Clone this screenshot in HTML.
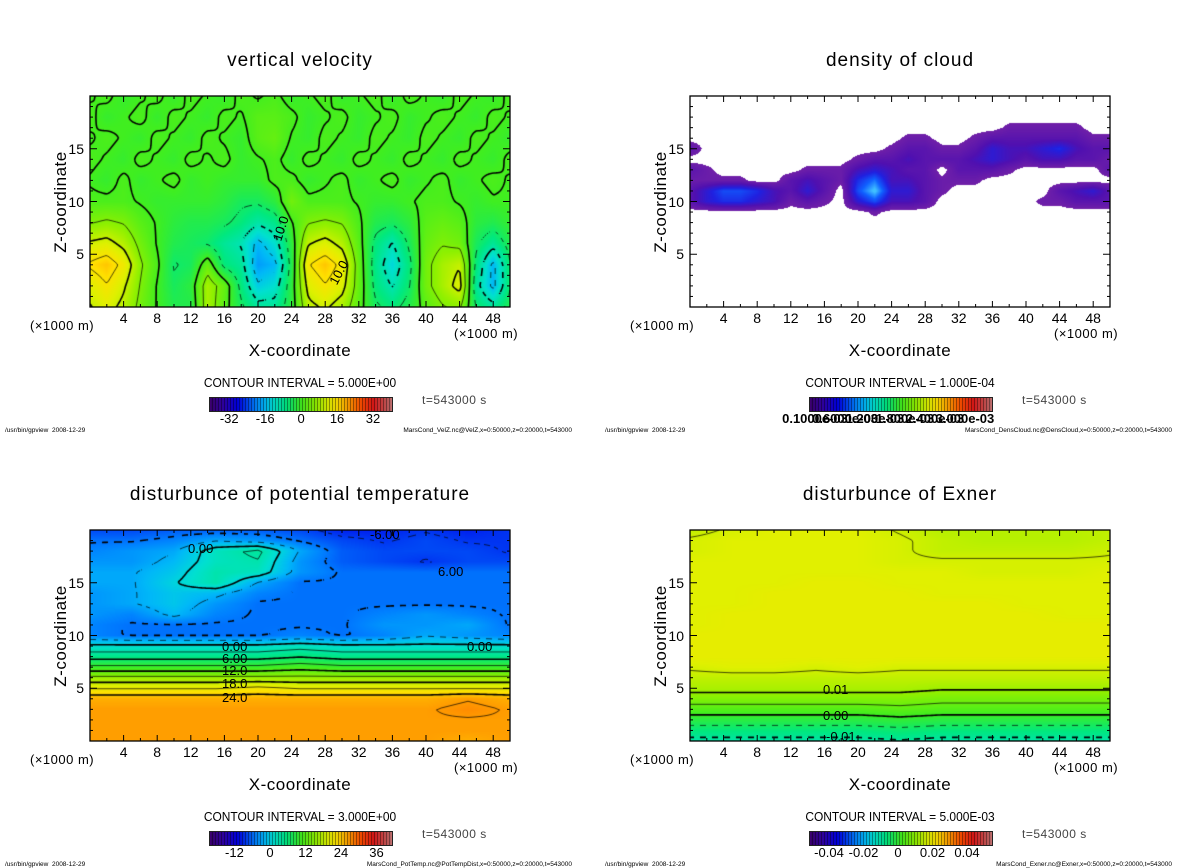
<!DOCTYPE html>
<html><head><meta charset="utf-8">
<style>
body{margin:0;background:#fff;width:1200px;height:868px;overflow:hidden;position:relative;font-family:"Liberation Sans",sans-serif;color:#000}
.panel{position:absolute;width:600px;height:434px}
.panel *{position:absolute}
.title{left:0;width:600px;text-align:center;top:50px;font-size:19px;letter-spacing:1px}
.plot{left:90px;top:96px}
.ov{left:0;top:0}
.yl{right:516px;font-size:14px;text-align:right;line-height:14px}
.xl{font-size:14px;width:30px;margin-left:-15px;text-align:center;top:311px;line-height:14px}
.ztitle{left:61px;top:202px;font-size:17px;transform:translate(-50%,-50%) rotate(-90deg);white-space:nowrap;letter-spacing:.5px}
.unitL{left:30px;top:318px;font-size:13px;letter-spacing:.5px}
.unitR{left:454px;top:326px;font-size:13px;letter-spacing:.5px}
.xtitle{left:0;width:600px;text-align:center;top:341px;font-size:17px;letter-spacing:.5px}
.ci{left:0;width:600px;text-align:center;top:375px;font-size:13px;transform:scaleX(.92)}
.cbar{left:209px;top:397px;border:1px solid #222}
.cl{top:411px;font-size:13px;width:50px;margin-left:-25px;text-align:center}
.tt{left:422px;top:393px;font-size:12px;color:#444;letter-spacing:.5px}
.fl{left:5px;top:427px;font-size:6.5px}
.fr{right:28px;top:427px;font-size:6.5px;white-space:nowrap}
.lab{font-size:13px;line-height:13px;white-space:nowrap}
</style></head><body>

<div class="panel" style="left:0;top:0">
 <div class="title">vertical velocity</div>
 <canvas id="cA" class="plot" width="420" height="211"></canvas>
 <svg id="sA" class="ov" width="600" height="434"></svg>
 <div class="ztitle">Z-coordinate</div>
 <div class="unitL">(×1000 m)</div>
 <div class="unitR">(×1000 m)</div>
 <div class="xtitle">X-coordinate</div>
 <div class="ci">CONTOUR INTERVAL = 5.000E+00</div>
 <canvas id="bA" class="cbar" width="182" height="13"></canvas>
 <div class="tt">t=543000 s</div>
 <div class="fl">/usr/bin/gpview &nbsp;2008-12-29</div>
 <div class="fr">MarsCond_VelZ.nc@VelZ,x=0:50000,z=0:20000,t=543000</div>
 <div class="lab" style="left:268px;top:222px;transform:rotate(-72deg)">10.0</div>
 <div class="lab" style="left:326px;top:266px;transform:rotate(-62deg)">10.0</div>
</div>

<div class="panel" style="left:600px;top:0">
 <div class="title">density of cloud</div>
 <canvas id="cB" class="plot" width="420" height="211"></canvas>
 <svg id="sB" class="ov" width="600" height="434"></svg>
 <div class="ztitle">Z-coordinate</div>
 <div class="unitL">(×1000 m)</div>
 <div class="unitR">(×1000 m)</div>
 <div class="xtitle">X-coordinate</div>
 <div class="ci">CONTOUR INTERVAL = 1.000E-04</div>
 <canvas id="bB" class="cbar" width="182" height="13"></canvas>
 <div class="tt">t=543000 s</div>
 <div class="fl">/usr/bin/gpview &nbsp;2008-12-29</div>
 <div class="fr">MarsCond_DensCloud.nc@DensCloud,x=0:50000,z=0:20000,t=543000</div>
</div>

<div class="panel" style="left:0;top:434px">
 <div class="title">disturbunce of potential temperature</div>
 <canvas id="cC" class="plot" width="420" height="211"></canvas>
 <svg id="sC" class="ov" width="600" height="434"></svg>
 <div class="ztitle">Z-coordinate</div>
 <div class="unitL">(×1000 m)</div>
 <div class="unitR">(×1000 m)</div>
 <div class="xtitle">X-coordinate</div>
 <div class="ci">CONTOUR INTERVAL = 3.000E+00</div>
 <canvas id="bC" class="cbar" width="182" height="13"></canvas>
 <div class="tt">t=543000 s</div>
 <div class="fl">/usr/bin/gpview &nbsp;2008-12-29</div>
 <div class="fr">MarsCond_PotTemp.nc@PotTempDist,x=0:50000,z=0:20000,t=543000</div>
 <div class="lab" style="left:222px;top:206px">0.00</div>
 <div class="lab" style="left:222px;top:218px">6.00</div>
 <div class="lab" style="left:222px;top:230px">12.0</div>
 <div class="lab" style="left:222px;top:243px">18.0</div>
 <div class="lab" style="left:222px;top:257px">24.0</div>
 <div class="lab" style="left:467px;top:206px">0.00</div>
 <div class="lab" style="left:188px;top:108px">0.00</div>
 <div class="lab" style="left:438px;top:131px">6.00</div>
 <div class="lab" style="left:370px;top:94px">-6.00</div>
</div>

<div class="panel" style="left:600px;top:434px">
 <div class="title">disturbunce of Exner</div>
 <canvas id="cD" class="plot" width="420" height="211"></canvas>
 <svg id="sD" class="ov" width="600" height="434"></svg>
 <div class="ztitle">Z-coordinate</div>
 <div class="unitL">(×1000 m)</div>
 <div class="unitR">(×1000 m)</div>
 <div class="xtitle">X-coordinate</div>
 <div class="ci">CONTOUR INTERVAL = 5.000E-03</div>
 <canvas id="bD" class="cbar" width="182" height="13"></canvas>
 <div class="tt">t=543000 s</div>
 <div class="fl">/usr/bin/gpview &nbsp;2008-12-29</div>
 <div class="fr">MarsCond_Exner.nc@Exner,x=0:50000,z=0:20000,t=543000</div>
 <div class="lab" style="left:223px;top:249px">0.01</div>
 <div class="lab" style="left:223px;top:275px">0.00</div>
 <div class="lab" style="left:226px;top:296px">-0.01</div>
</div>

<script>
// ---- shared axes data ----
const xTickLabels = [4,8,12,16,20,24,28,32,36,40,44,48];
const zTickLabels = [5,10,15];
// ---- vertical velocity (x step 2 km, z step 2 km) ----
const velX0 = 0, velDX = 2, velZ0 = 0, velDZ = 2;
const velRows = [
 [10,12,9,4,0,-3,-3,8,2,-4,-8,-8,-2,9,11,8,2,-4,-6,-3,2,5,6,-5,-8,-3],
 [12,15,11,5,0,-4,-2,8,3,-6,-14,-12,-2,12,15,12,3,-6,-10,-5,4,8,12,-8,-16,-5],
 [16,18,14,6,1,-5,-4,3,-6,-8,-18,-16,-3,15,18,14,3,-7,-13,-6,4,8,10,-6,-16,-5],
 [11,12,9,4,0,-3,-4,-5,-8,-10,-16,-12,-2,10,12,9,2,-6,-10,-4,3,5,4,-4,-8,-3],
 [5,6,5,2,0,-2,-3,-3,-4,-6,-9,-7,0,5,6,5,1,-3,-4,-2,2,3,2,-2,-3,-1],
 [1,1,1,0,-1,-1,-1,-1,-2,-4,-4,-2,4,1,1,1,0,-1,-1,0,1,1,0,-1,0,0],
 [0,-1,1,-1,0,1,-1,0,-1,-1,-1,1,1,-1,0,1,-1,0,1,-1,0,1,-1,0,1,0],
 [1,0,-1,1,0,-1,1,0,1,-1,0,1,-1,1,0,-1,1,0,-1,1,0,-1,1,0,-1,1],
 [0,1,0,-1,1,0,-1,1,0,-1,2,3,0,-1,1,0,-1,1,0,-1,1,0,-1,1,0,-1],
 [1,-1,0,1,-1,1,0,-1,1,0,2,2,1,-1,0,1,-1,0,1,-1,0,1,0,-1,1,0],
 [0,1,-1,0,1,-1,1,0,-1,1,0,1,-1,0,1,-1,0,1,-1,1,0,-1,1,0,-1,1]
];
const velLevels = [-20,-15,-10,-5,0,5,10,15,20];
const velCbarTicks = [-32,-16,0,16,32];
// ---- cloud density (1e-4 units), x step 2 km, z 8..18 ----
const cldX0 = 0, cldDX = 2, cldZ0 = 8, cldDZ = 1;
const cldRows = [
 [0,0,0,0,0,0,0,0,0,0,0,0,0,0,0,0,0,0,0,0,0,0,0,0,0,0],
 [0,0,0,0,0,0,0,0,0,0,0,1,0,0,0,0,0,0,0,0,0,0,0,0,0,0],
 [2,4,5,5,4,3,1,2,1,0,4,6,3,3,2,0,0,0,0,0,0,1,1,2,2,2],
 [2,4,6,6,5,3,2,4,2,0,6,9,4,4,2,1,0,0,0,0,0,0,2,3,4,2],
 [1,1,1,1,0,0,2,3,2,1,5,7,3,3,2,1,1,1,0,0,0,0,0,0,0,0],
 [2,1,0,0,0,0,0,1,1,1,3,4,3,2,2,0,2,2,2,1,0,0,0,0,0,2],
 [0,0,0,0,0,0,0,0,0,0,1,2,2,3,2,2,2,3,4,3,2,3,3,2,2,1],
 [2,0,0,0,0,0,0,0,0,0,0,0,1,2,2,1,1,2,4,3,3,4,5,3,2,2],
 [0,0,0,0,0,0,0,0,0,0,0,0,0,1,1,0,0,1,2,2,2,2,2,2,1,1],
 [0,0,0,0,0,0,0,0,0,0,0,0,0,0,0,0,0,0,0,1,1,1,1,1,0,0],
 [0,0,0,0,0,0,0,0,0,0,0,0,0,0,0,0,0,0,0,0,0,0,0,0,0,0]
];
const cldCbarTicks = ["0.1000e-03","0.6000e-03","1.200e-03","1.800e-03","2.400e-03","3.000e-03"];
// ---- potential temperature, x step 5 km, z step 1 km ----
const ptX0 = 0, ptDX = 5, ptZ0 = 0, ptDZ = 1;
const ptRows = [
 [27,27,27,27,27,27,27,27,27,26,27],
 [27,27,27,27,27,27,27,27,27,27,27],
 [27,27,27,27,27,27,27,27,27,27,27],
 [27,27,27,27,27,27,27,27,27,28,27],
 [26,26,26,26,26,26,26,26,26,27,26],
 [21,21,21,21,22,21,21,21,21,21,21],
 [16,16,16,16,16,16,16,16,16,16,16],
 [10,10,10,10,10,11,10,10,10,10,10],
 [5,5,5,5,5,6,5,5,5,5,5],
 [1,1,1,1,1,2,1,1,1,1,1],
 [-5,-6,-6,-6,-6,-5,-6,-5,-3,-4,-5],
 [-5,-6,-6,-6,-6,-6,-6,-4,-4,-3,-6],
 [-4,-5,-2,-5,-6,-6,-6,-5,-4,-5,-6],
 [-4,-3,-1,-4,-6,-6,-6,-6,-6,-6,-6],
 [-4,-3,-1,-2,-5,-6,-6,-6,-6,-6,-6],
 [-3,-3,0,3,-3,-6,-6,-6,-6,-6,-6],
 [-3,-3,-1,3,2,-4,-6,-6,-6,-6,-6],
 [-4,-4,-2,2,3,-4,-7,-8,-9,-8,-8],
 [-5,-4,-3,2,4,-3,-7,-8,-8,-8,-9],
 [-6,-6,-5,-3,-4,-6,-8,-9,-8,-9,-9],
 [-8,-8,-7,-7,-7,-8,-10,-10,-9,-10,-9]
];
const ptLevels = [-9,-6,-3,0,3,6,9,12,15,18,21,24,27];
const ptCbarTicks = [-12,0,12,24,36];
// ---- Exner (1e-3 units), x step 5 km, z step 1 km ----
const exX0 = 0, exDX = 5, exZ0 = 0, exDZ = 1;
const exRows = [
 [-11,-11,-11,-11,-11,-10,-11,-11,-11,-11,-11],
 [-7,-7,-7,-7,-7,-6,-7,-7,-7,-7,-7],
 [-2,-2,-2,-2,-2,-1,-2,-2,-2,-2,-2],
 [3,3,3,3,3,4,3,3,3,3,3],
 [8,8,8,8,8,8,7,7,7,7,7],
 [12,12,12,12,12,12,11,11,11,11,11],
 [14,14,14,14,14,14,14,14,14,14,14],
 [16,17,17,16,17,16,16,16,16,16,16],
 [18,18,18,18,18,18,18,18,18,18,18],
 [18,18,18,18,18,18,18,18,18,18,18],
 [18,18,18,18,18,18,18,18,18,18,18],
 [17,18,18,18,18,18,18,18,18,18,18],
 [17,18,18,18,18,18,18,18,18,17,17],
 [17,17,18,18,18,18,18,18,17,17,17],
 [17,17,18,18,18,18,17,17,17,17,17],
 [17,17,17,18,18,17,17,17,17,17,17],
 [17,17,17,17,17,17,17,16,16,16,17],
 [17,17,17,17,17,16,16,16,16,16,16],
 [16,17,17,17,17,16,14,14,14,14,15],
 [16,17,17,17,17,16,14,13,13,13,14],
 [14,16,17,17,17,15,13,13,13,13,14]
];
const exLevels = [-10,-5,0,5,10,15];
const exCbarTicks = ["-0.04","-0.02","0","0.02","0.04"];

// ---- colormaps ----
const stops=[[0,'#3c0070'],[0.07,'#3000a8'],[0.15,'#0000e8'],[0.25,'#0080ff'],[0.3,'#00b8f8'],[0.35,'#00e0d0'],[0.42,'#00e880'],[0.5,'#40ee20'],[0.58,'#90f000'],[0.65,'#e0f000'],[0.7,'#ffe000'],[0.76,'#ffa000'],[0.83,'#ff5000'],[0.9,'#e01818'],[1,'#c07070']];
const cloudStops=[[0,'#7020a8'],[0.25,'#5010b0'],[0.5,'#2020e0'],[0.75,'#1060ff'],[1,'#40c0ff']];
function hex(h){return [parseInt(h.substr(1,2),16),parseInt(h.substr(3,2),16),parseInt(h.substr(5,2),16)];}
function cmap(t,st){st=st||stops;t=Math.max(0,Math.min(1,t));
 for(let i=1;i<st.length;i++){if(t<=st[i][0]){const a=st[i-1],b=st[i];const f=(t-a[0])/(b[0]-a[0]);const ca=hex(a[1]),cb=hex(b[1]);return [0,1,2].map(k=>Math.round(ca[k]+(cb[k]-ca[k])*f));}}
 return hex(st[st.length-1][1]);}

const W=420,H=211;
function xScale(x){return 90+x/50*W;}
function zScale(z){return 96+H-z/20*H;}
function sampler(rows,x0,dx,z0,dz){
 const nz=rows.length,nx=rows[0].length;
 return function(x,z){
  let fx=(x-x0)/dx,fz=(z-z0)/dz;
  fx=Math.max(0,Math.min(nx-1.0001,fx));fz=Math.max(0,Math.min(nz-1.0001,fz));
  const i=Math.floor(fx),j=Math.floor(fz),u=fx-i,v=fz-j;
  return rows[j][i]*(1-u)*(1-v)+rows[j][i+1]*u*(1-v)+rows[j+1][i]*(1-u)*v+rows[j+1][i+1]*u*v;};
}
function pxToX(px){return px/W*50;}
function pyToZ(py){return 20-py/H*20;}

function drawPanel(id,f,vmin,vmax,levels,thickFn,cloud){
 const cv=document.getElementById(id),ctx=cv.getContext('2d');
 const img=ctx.createImageData(W,H);
 for(let py=0;py<H;py++)for(let px=0;px<W;px++){
  const v=f(pxToX(px+0.5),pyToZ(py+0.5));let c;
  if(cloud){c = v<0.6?[255,255,255]:cmap((v-0.6)/8,cloudStops);}
  else c=cmap((v-vmin)/(vmax-vmin));
  const k=(py*W+px)*4;img.data[k]=c[0];img.data[k+1]=c[1];img.data[k+2]=c[2];img.data[k+3]=255;}
 ctx.putImageData(img,0,0);
 if(!levels)return;
 const s=2,nx=Math.ceil(W/s),ny=Math.ceil(H/s);
 const g=[];for(let j=0;j<=ny;j++){g.push([]);for(let i=0;i<=nx;i++)g[j].push(f(pxToX(i*s),pyToZ(j*s)));}
 const eps=(vmax-vmin)*0.0037;
 levels.forEach(L0=>{
  const L=L0+eps;
  ctx.strokeStyle='#000';ctx.lineWidth=thickFn(L0)?1.6:0.7;ctx.beginPath();
  const dashed=L0<0;
  for(let j=0;j<ny;j++)for(let i=0;i<nx;i++){
   const a=g[j][i]-L,b=g[j][i+1]-L,c=g[j+1][i+1]-L,d=g[j+1][i]-L;
   const pts=[];const x=i*s,y=j*s;
   if((a>0)!==(b>0))pts.push([x+s*a/(a-b),y]);
   if((b>0)!==(c>0))pts.push([x+s,y+s*b/(b-c)]);
   if((d>0)!==(c>0))pts.push([x+s*d/(d-c),y+s]);
   if((a>0)!==(d>0))pts.push([x,y+s*a/(a-d)]);
   if(dashed&&Math.floor((x+y)/6)%2===1)continue;
   for(let p=0;p+1<pts.length;p+=2){ctx.moveTo(pts[p][0],pts[p][1]);ctx.lineTo(pts[p+1][0],pts[p+1][1]);}
  }
  ctx.stroke();});
}
function drawCbar(id){
 const cv=document.getElementById(id),ctx=cv.getContext('2d');
 for(let x=0;x<182;x++){const c=cmap(x/181);const dark=(x%3===2)?0.45:1;
  ctx.fillStyle='rgb('+Math.round(c[0]*dark)+','+Math.round(c[1]*dark)+','+Math.round(c[2]*dark)+')';ctx.fillRect(x,0,1,13);}
}
function cbarLabels(panelSel,ticks,vmin,vmax){
 const p=document.querySelector(panelSel);
 ticks.forEach((t,i)=>{const d=document.createElement('div');d.className='cl';
  const v=typeof t==='string'?parseFloat(t):t;
  d.style.left=(209+(v-vmin)/(vmax-vmin)*182)+'px';d.textContent=t;
  
  
  p.appendChild(d);});
}
const NS='http://www.w3.org/2000/svg';
function axes(id){
 const svg=document.getElementById(id);const p=svg.parentNode;
 const fr=document.createElementNS(NS,'rect');fr.setAttribute('x',90);fr.setAttribute('y',96);fr.setAttribute('width',W);fr.setAttribute('height',H);
 fr.setAttribute('fill','none');fr.setAttribute('stroke','#000');fr.setAttribute('stroke-width','1.3');
 
 
 svg.appendChild(fr);
 function ln(x1,y1,x2,y2,nm){const l=document.createElementNS(NS,'line');l.setAttribute('x1',x1);l.setAttribute('y1',y1);l.setAttribute('x2',x2);l.setAttribute('y2',y2);l.setAttribute('stroke','#000');l.setAttribute('stroke-width','1');
  
  
  svg.appendChild(l);}
 for(let x=2;x<50;x+=2){const len=(x%4===0)?6:3;ln(xScale(x),96+H,xScale(x),96+H-len,'x-tick');ln(xScale(x),96,xScale(x),96+len,'x-tick');}
 for(let z=1;z<20;z++){const len=(z%5===0)?7:3;ln(90,zScale(z),90+len,zScale(z),'z-tick');ln(90+W,zScale(z),90+W-len,zScale(z),'z-tick');}
 xTickLabels.forEach(x=>{const d=document.createElement('div');d.className='xl';d.style.left=xScale(x)+'px';d.textContent=x;
  
  
  p.appendChild(d);});
 zTickLabels.forEach(z=>{const d=document.createElement('div');d.className='yl';d.style.top=(zScale(z)-7)+'px';d.textContent=z;
  
  
  p.appendChild(d);});
}
drawPanel('cA',sampler(velRows,velX0,velDX,velZ0,velDZ),-40,40,velLevels,L=>L%10===0,false);
drawPanel('cB',sampler(cldRows,cldX0,cldDX,cldZ0,cldDZ),0,1,null,null,true);
drawPanel('cC',sampler(ptRows,ptX0,ptDX,ptZ0,ptDZ),-21,42,ptLevels,L=>L%6===0,false);
drawPanel('cD',sampler(exRows,exX0,exDX,exZ0,exDZ),-52,54,exLevels,L=>L%10===0,false);
['sA','sB','sC','sD'].forEach(axes);
['bA','bB','bC','bD'].forEach(drawCbar);
const panels=document.querySelectorAll('.panel');
panels[0].id='pA';panels[1].id='pB';panels[2].id='pC';panels[3].id='pD';
cbarLabels('#pA',velCbarTicks,-41,40);
cbarLabels('#pC',ptCbarTicks,-20.6,40.9);
cbarLabels('#pD',exCbarTicks,-0.0516,0.0539);
cldCbarTicks.forEach((t,i)=>{const d=document.createElement('div');d.className='cl';d.style.width='80px';d.style.marginLeft='-40px';
 d.style.left=(215+i*30)+'px';d.style.fontWeight='bold';d.textContent=t;
 
 
 document.getElementById('pB').appendChild(d);});
</script>
</body></html>
